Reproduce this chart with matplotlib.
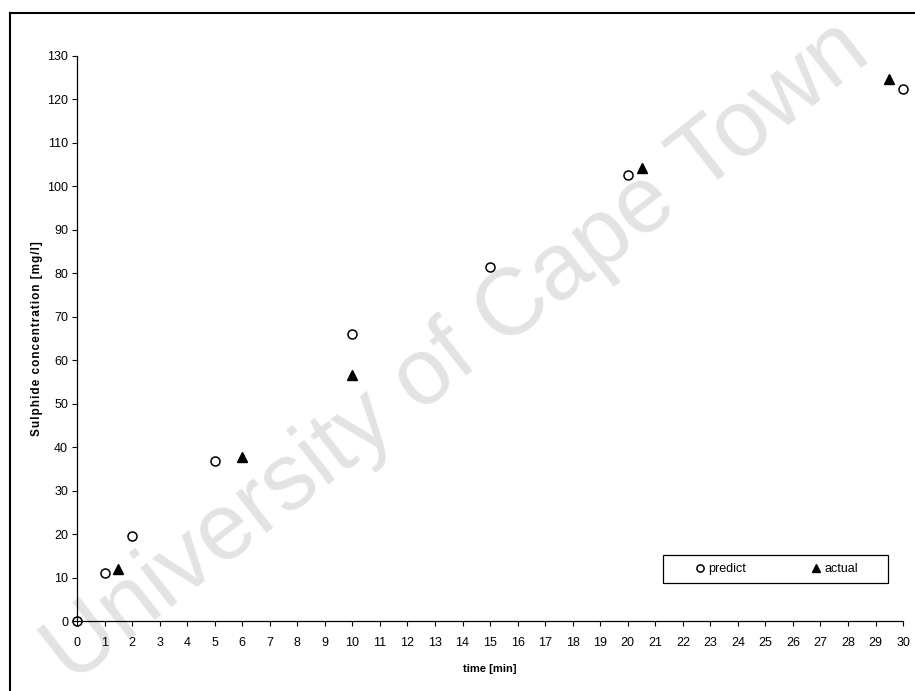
import numpy as np
import matplotlib.pyplot as plt
from matplotlib.lines import Line2D
from matplotlib.patches import Rectangle

plt.rcParams['font.family'] = ['Liberation Sans', 'DejaVu Sans']

# data
t_predict = [0, 1, 2, 5, 10, 15, 20, 30]
s_predict = [0, 11.0, 19.6, 36.8, 66.0, 81.5, 102.6, 122.3]
t_actual = [1.5, 6, 10, 20.5, 29.5]
s_actual = [12.0, 37.8, 56.6, 104.2, 124.6]

xticks = np.arange(0, 31, 1)
yticks = np.arange(0, 131, 10)

fig = plt.figure(figsize=(9.15, 6.91), dpi=100)
ax = fig.add_axes([0.0842, 0.1013, 0.9028, 0.8177])
ax.set_facecolor('none')

ax.plot(t_predict, s_predict, 'o', mfc='none', mec='black', mew=1.1, ms=6.5,
        label='predict', clip_on=False, zorder=3)
ax.plot(t_actual, s_actual, '^', color='black', ms=7.5, label='actual',
        clip_on=False, zorder=3)

ax.set_xlim(0, 30)
ax.set_ylim(0, 130)
ax.set_xticks(xticks)
ax.set_yticks(yticks)
ax.tick_params(direction='out', length=3.5, width=0.8, labelsize=9)
ax.tick_params(axis='x', pad=8)
ax.tick_params(axis='y', pad=3)
for sp in ['top', 'right']:
    ax.spines[sp].set_visible(False)
for sp in ['left', 'bottom']:
    ax.spines[sp].set_linewidth(0.9)

ax.set_xlabel('time [min]', fontsize=8, fontweight='bold', labelpad=11)
ylab = '\u200a'.join('Sulphide concentration [mg/l]')
ax.set_ylabel(ylab, fontsize=8.5, fontweight='bold', labelpad=3)

# legend box
fig.add_artist(Rectangle((663 / 915, 1 - 583 / 691), 225 / 915, 28 / 691,
                         transform=fig.transFigure, fill=False, ec='black', lw=0.9))
leg = ax.legend(loc='center', bbox_to_anchor=(0.849, 0.1766),
                bbox_transform=fig.transFigure, ncol=2, fontsize=9, frameon=False,
                handletextpad=0.25, columnspacing=5.2, handlelength=0.8,
                markerscale=0.8)

# outer frame
fig.add_artist(Line2D([10 / 915, 10 / 915], [0, 1 - 13 / 691], color='black', lw=1.5))
fig.add_artist(Line2D([10 / 915, 1], [1 - 13 / 691, 1 - 13 / 691], color='black', lw=1.5))

# watermark
fig.text(0.5, 0.49, 'University of Cape Town', fontsize=68, color='#e3e3e3',
         rotation=38, ha='center', va='center', rotation_mode='anchor', zorder=-1)

fig.savefig('out.png', dpi=100)
